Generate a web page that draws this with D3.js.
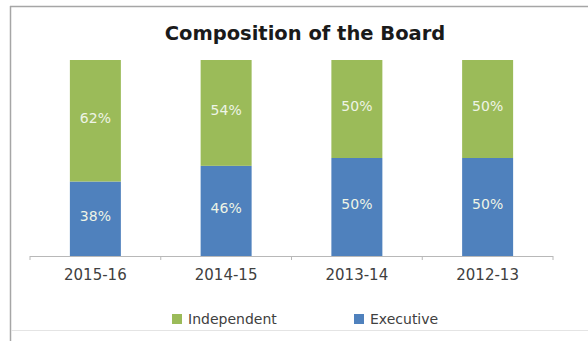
<!DOCTYPE html>
<html>
<head>
<meta charset="utf-8">
<script src="https://cdn.jsdelivr.net/npm/d3@7"></script>
<style>
  html, body { margin: 0; padding: 0; background: #fff; }
  svg { display: block; }
  text { font-family: "DejaVu Sans", sans-serif; }
</style>
</head>
<body>
<svg id="chart" width="588" height="341"></svg>
<script>
// Board composition by financial year (percent of directors)
const years = ["2015-16", "2014-15", "2013-14", "2012-13"];
const executive = [38, 46, 50, 50];
const independent = [62, 54, 50, 50];
const seriesNames = ["Independent", "Executive"];
const seriesColors = ["#9BBB59", "#4F81BD"];

const svg = d3.select("#chart");
const W = 588, H = 341;

// chart frame: top and left edges, faint bottom edge
svg.append("line").attr("x1", 10).attr("x2", W).attr("y1", 6.5).attr("y2", 6.5)
  .attr("stroke", "#a6a6a6").attr("stroke-width", 1.5);
svg.append("line").attr("x1", 10.5).attr("x2", 10.5).attr("y1", 6).attr("y2", H)
  .attr("stroke", "#a6a6a6").attr("stroke-width", 1.5);
svg.append("line").attr("x1", 11).attr("x2", W).attr("y1", 330.5).attr("y2", 330.5)
  .attr("stroke", "#e4e4e4").attr("stroke-width", 1);

const plot = { left: 30, right: 553, top: 60, bottom: 256 };

const x = d3.scaleBand().domain(years).range([plot.left, plot.right]).paddingInner(0.61).paddingOuter(0.305);
const y = d3.scaleLinear().domain([0, 100]).range([plot.bottom, plot.top]);

const rows = years.map((yr, i) => ({ year: yr, Executive: executive[i], Independent: independent[i] }));
const stack = d3.stack().keys(["Executive", "Independent"])(rows);
const color = d3.scaleOrdinal().domain(seriesNames).range(seriesColors);

const layers = svg.append("g").selectAll("g").data(stack).join("g")
  .attr("fill", d => color(d.key));

layers.selectAll("rect").data(d => d).join("rect")
  .attr("x", d => x(d.data.year))
  .attr("y", d => y(d[1]))
  .attr("width", x.bandwidth())
  .attr("height", d => y(d[0]) - y(d[1]));

// value labels inside segments
layers.selectAll("text").data(d => d).join("text")
  .attr("x", d => x(d.data.year) + x.bandwidth() / 2)
  .attr("y", d => (y(d[0]) + y(d[1])) / 2 - 3)
  .attr("dy", "0.35em")
  .attr("text-anchor", "middle")
  .attr("fill", "#eef4e6")
  .attr("font-size", 14)
  .text(d => (d[1] - d[0]) + "%");

// category axis
const xAxis = d3.axisBottom(x).tickSize(0).tickPadding(13);
const ax = svg.append("g").attr("transform", `translate(0,${plot.bottom})`).call(xAxis);
ax.select(".domain").attr("stroke", "#b8b8b8").attr("d", `M${plot.left},0.5H${plot.right}`);
ax.selectAll(".tick text").attr("font-size", 15).attr("fill", "#404040")
  .style("font-family", "'DejaVu Sans', sans-serif");
// boundary tick marks between categories
const edges = years.map(d => x(d) - x.step() * x.paddingInner() / 2).concat([plot.right]);
ax.selectAll("line.edge").data(edges).join("line").attr("class", "edge")
  .attr("x1", d => d).attr("x2", d => d).attr("y1", 0).attr("y2", 4)
  .attr("stroke", "#b8b8b8");

// title
svg.append("text").attr("x", 305).attr("y", 40).attr("text-anchor", "middle")
  .attr("font-size", 19.5).attr("font-weight", "bold").attr("fill", "#1a1a1a")
  .text("Composition of the Board");

// legend
const legendX = [172, 354];
const legend = svg.append("g").selectAll("g").data(seriesNames).join("g")
  .attr("transform", (d, i) => `translate(${legendX[i]},319)`);
legend.append("rect").attr("x", 0).attr("y", -5).attr("width", 10).attr("height", 10)
  .attr("fill", d => color(d));
legend.append("text").attr("x", 16).attr("dy", "0.35em").attr("font-size", 14)
  .attr("fill", "#404040").text(d => d);
</script>
</body>
</html>
